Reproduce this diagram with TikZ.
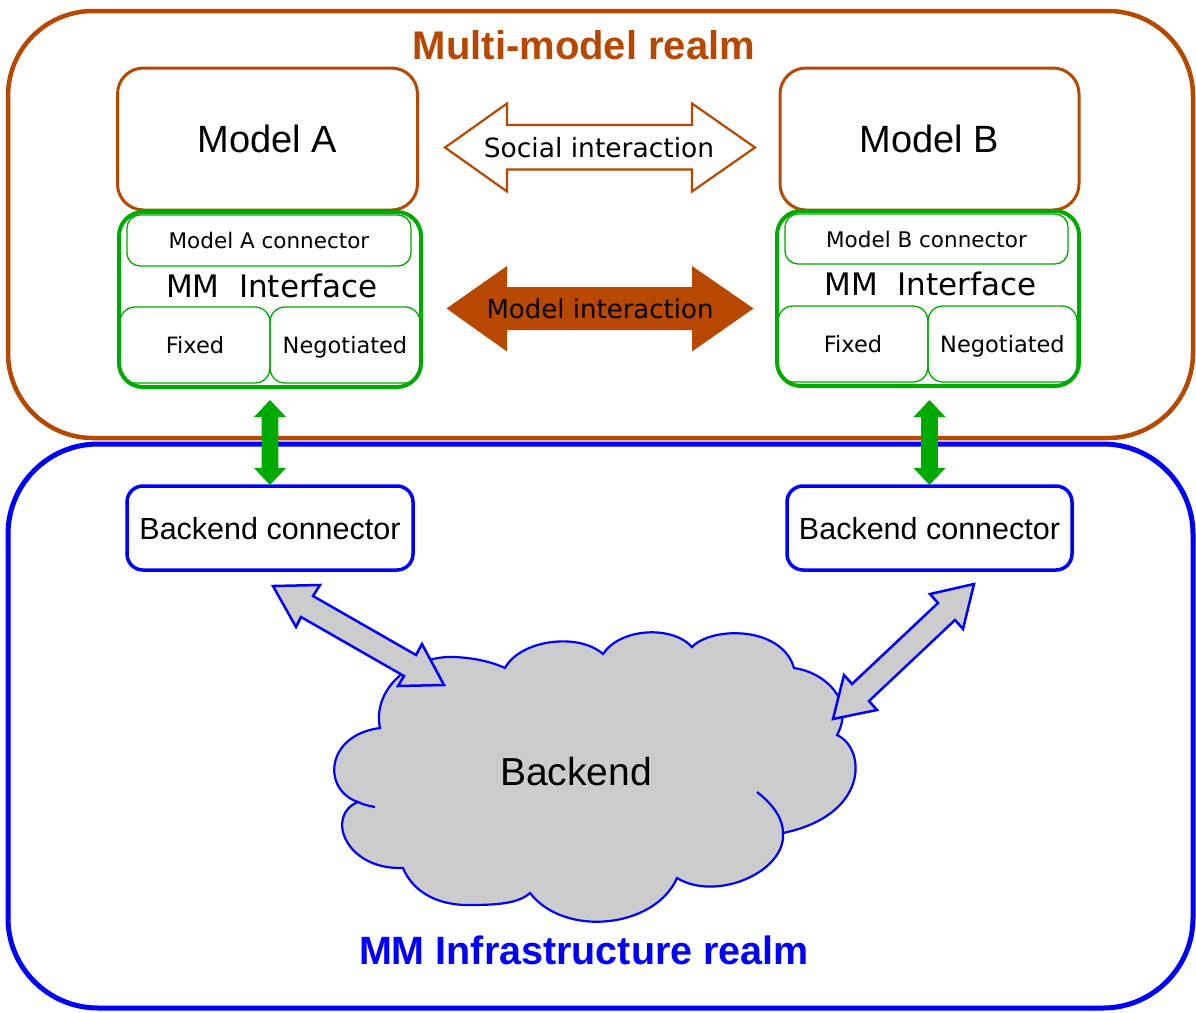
\documentclass[tikz,border=0pt]{standalone}
\usepackage{fontspec}
\setmainfont{DejaVu Sans}
\newfontfamily\lib{Liberation Sans}
\definecolor{brn}{RGB}{184,71,0}
\definecolor{grn}{RGB}{0,170,0}
\definecolor{blu}{RGB}{0,0,255}
\definecolor{gry}{RGB}{204,204,204}
\newcommand{\fsz}[1]{\fontsize{#1}{#1}\selectfont}
\begin{document}
\begin{tikzpicture}[x=1pt,y=-1pt,
  every node/.append style={text depth=0pt},
  realm/.style={rectangle, line width=4.5pt, rounded corners=85pt, inner sep=0pt},
  modelbox/.style={rectangle, draw=brn, line width=3pt, rounded corners=26pt, fill=white, inner sep=0pt, minimum width=300pt, minimum height=142pt, font=\lib\fsz{38}},
  ifbox/.style={rectangle, draw=grn, line width=4pt, rounded corners=24pt, inner sep=0pt, minimum width=302pt, minimum height=175pt},
  conbox/.style={rectangle, draw=grn, line width=1.3pt, rounded corners=13pt, inner sep=0pt, minimum width=284pt, minimum height=51pt, font=\fsz{21.5}},
  subbox/.style={rectangle, draw=grn, line width=1.3pt, rounded corners=15pt, inner sep=0pt, minimum width=150pt, minimum height=76pt, font=\fsz{22.5}},
  lbl/.style={inner sep=0pt, text=black},
  bconn/.style={rectangle, draw=blu, line width=3.5pt, rounded corners=16pt, inner sep=0pt, minimum width=286pt, minimum height=84pt, font=\lib\fsz{30.5}},
  grayarrow/.style={draw=blu, fill=gry, line width=2.5pt, line join=miter},
  greenarrow/.style={fill=grn, draw=none},
  cloudline/.style={draw=blu, line width=2.2pt}
]
\useasboundingbox (0,0) rectangle (1196,1012);
\fill[white] (0,0) rectangle (1196,1012);

% realms
\node[realm, draw=brn, minimum width=1185pt, minimum height=427pt] (mmrealm) at (600.5,224.5) {};
\node[realm, draw=blu, line width=5pt, rounded corners=90pt, minimum width=1185pt, minimum height=564pt] (infrarealm) at (600.5,726) {};
\node[lbl, text=brn, font=\lib\bfseries\fsz{40}] (mmlabel) at (584,45) {Multi-model realm};
\node[lbl, text=blu, font=\lib\bfseries\fsz{39.5}] (infralabel) at (584,950) {MM Infrastructure realm};

% models
\node[modelbox] (modelA) at (267.5,139) {Model A};
\node[modelbox, minimum width=299pt] (modelB) at (929.5,139) {Model B};

% interfaces A
\node[ifbox] (ifA) at (270,299.5) {};
\node[conbox] (conA) at (269,240.5) {Model A connector};
\node[lbl, font=\fsz{31}] (mmiA) at (272,286) {MM\ \ Interface};
\node[subbox] (fixA) at (195,345) {Fixed};
\node[subbox] (negA) at (345,345) {Negotiated};

% interfaces B
\node[ifbox] (ifB) at (928,298.5) {};
\node[conbox, minimum width=283pt, minimum height=50pt] (conB) at (926.5,239) {Model B connector};
\node[lbl, font=\fsz{31}] (mmiB) at (930.5,284) {MM\ \ Interface};
\node[subbox] (fixB) at (853,344) {Fixed};
\node[subbox, minimum width=149pt] (negB) at (1002.5,344) {Negotiated};

% social interaction arrow
\draw[draw=brn, fill=white, line width=2.2pt, line join=miter]
  (445,147.5) -- (507,103.5) -- (507,125) -- (692,125) -- (692,103.5) -- (755,147.5)
  -- (692,191.5) -- (692,169.5) -- (507,169.5) -- (507,191.5) -- cycle;
\node[lbl, font=\fsz{26.5}] (social) at (599,147.5) {Social interaction};

% model interaction arrow
\fill[brn]
  (446.5,308.5) -- (507,266) -- (507,287) -- (692,287) -- (692,266) -- (753.5,308.5)
  -- (692,351.5) -- (692,330) -- (507,330) -- (507,351.5) -- cycle;
\node[lbl, font=\fsz{26}] (modelint) at (600,308.5) {Model interaction};

% backend connectors
\node[bconn] (bcA) at (270,528) {Backend connector};
\node[bconn, minimum width=285pt] (bcB) at (929.5,528) {Backend connector};

% green double arrows
\fill[greenarrow] (270,400) -- (286,417) -- (278.3,417) -- (278.3,468) -- (286,468) -- (270,485)
  -- (254,468) -- (261.7,468) -- (261.7,417) -- (254,417) -- cycle;
\fill[greenarrow] (929.5,400) -- (945.5,417) -- (937.8,417) -- (937.8,468) -- (945.5,468) -- (929.5,485)
  -- (913.5,468) -- (921.2,468) -- (921.2,417) -- (913.5,417) -- cycle;

% cloud
\draw[cloudline, fill=gry] (380,728)
 .. controls (372,690) and (410,655) .. (455,657)
 .. controls (475,658) and (492,662) .. (505,668)
 .. controls (520,640) and (578,632) .. (603,654)
 .. controls (620,628) and (672,625) .. (692,647)
 .. controls (712,626) and (782,626) .. (794,668)
 .. controls (824,672) and (856,700) .. (837,735)
 .. controls (866,748) and (870,815) .. (783,833)
 .. controls (786,872) and (716,902) .. (677,878)
 .. controls (655,928) and (565,938) .. (530,893)
 .. controls (518,904) and (495,905) .. (468,905)
 .. controls (435,905) and (412,890) .. (403,868)
 .. controls (345,870) and (325,815) .. (358,802)
 .. controls (322,790) and (325,735) .. (380,728) -- cycle;
\draw[cloudline] (358,802) .. controls (365,805) .. (375,807);
\draw[cloudline] (757,792) .. controls (775,806) and (783,820) .. (783,833);
\node[lbl, font=\lib\fsz{39}] (backend) at (576,771) {Backend};

% gray double arrows
\draw[grayarrow] (273,586) -- (320,585) -- (313,596) -- (416,655) -- (422,644) -- (444,685)
  -- (398,686) -- (404,676) -- (301,617) -- (296,627) -- cycle;
\draw[grayarrow] (974,584) -- (930,594) -- (938,603) -- (852,684) -- (844,675) -- (833,719)
  -- (877,710) -- (869,701) -- (955,620) -- (963,629) -- cycle;
\end{tikzpicture}
\end{document}
